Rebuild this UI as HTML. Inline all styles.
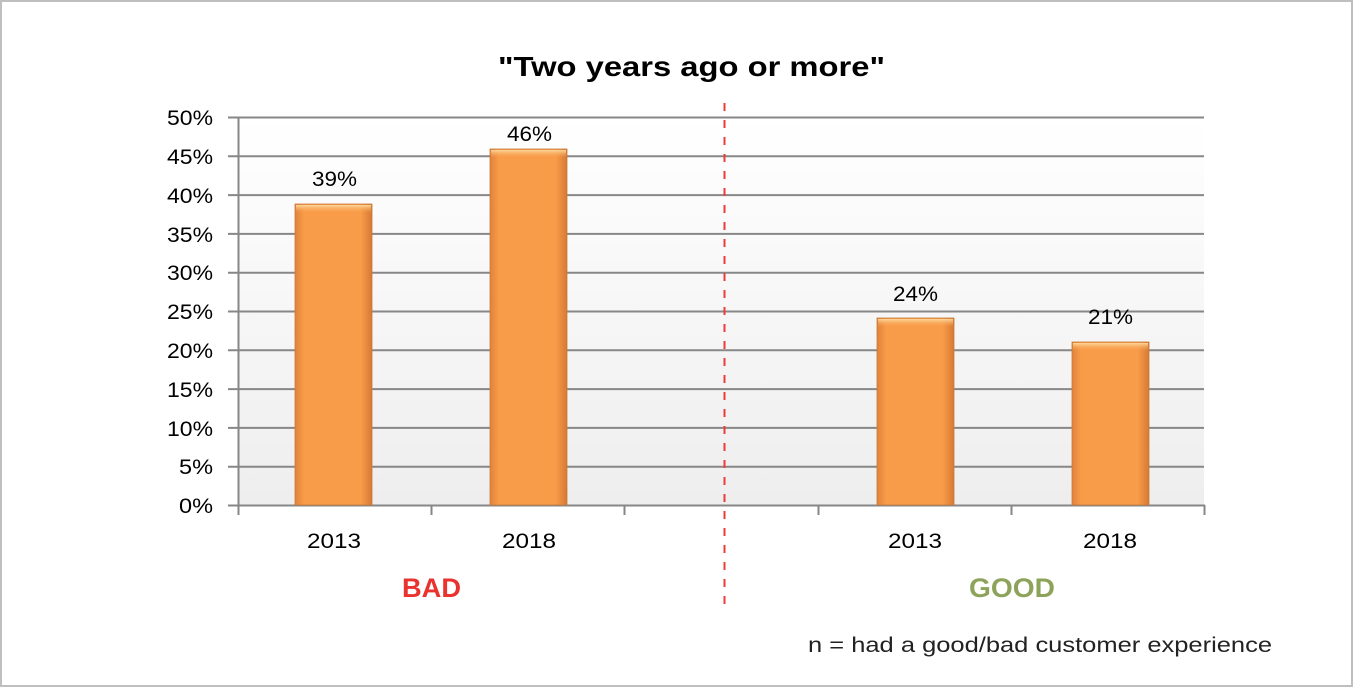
<!DOCTYPE html>
<html><head><meta charset="utf-8"><style>
html,body{margin:0;padding:0;background:#fff;}
svg{display:block;}
text{font-family:"Liberation Sans",sans-serif;}
</style></head><body>
<svg width="1354" height="688" viewBox="0 0 1354 688" xmlns="http://www.w3.org/2000/svg">
<defs>
<linearGradient id="bg" x1="0" y1="0" x2="0" y2="1">
<stop offset="0" stop-color="#ffffff"/><stop offset="1" stop-color="#eeeeee"/>
</linearGradient>
<linearGradient id="bar" x1="0" y1="0" x2="1" y2="0">
<stop offset="0" stop-color="#e0823a"/><stop offset="0.12" stop-color="#f99c4a"/>
<stop offset="0.85" stop-color="#f99c4a"/><stop offset="1" stop-color="#d67a34"/>
</linearGradient>
<linearGradient id="cap" x1="0" y1="0" x2="0" y2="1">
<stop offset="0" stop-color="#fbd79a"/><stop offset="1" stop-color="#f99c4a" stop-opacity="0"/>
</linearGradient>
</defs>
<rect x="1" y="1" width="1351" height="685" fill="#fff" stroke="#bfbfbf" stroke-width="2"/>
<text x="498" y="76" font-size="28" font-weight="bold" fill="#000" textLength="387" lengthAdjust="spacingAndGlyphs">"Two years ago or more"</text>
<rect x="238" y="117" width="966" height="388" fill="url(#bg)"/>
<g stroke="#878787" stroke-width="2">
<line x1="228" y1="117.5" x2="1204" y2="117.5"/>
<line x1="228" y1="156.3" x2="1204" y2="156.3"/>
<line x1="228" y1="195.1" x2="1204" y2="195.1"/>
<line x1="228" y1="233.9" x2="1204" y2="233.9"/>
<line x1="228" y1="272.7" x2="1204" y2="272.7"/>
<line x1="228" y1="311.5" x2="1204" y2="311.5"/>
<line x1="228" y1="350.3" x2="1204" y2="350.3"/>
<line x1="228" y1="389.1" x2="1204" y2="389.1"/>
<line x1="228" y1="427.9" x2="1204" y2="427.9"/>
<line x1="228" y1="466.7" x2="1204" y2="466.7"/>
<line x1="228" y1="505.5" x2="1205" y2="505.5"/>
<line x1="238.5" y1="117" x2="238.5" y2="515"/>
<line x1="431.5" y1="505" x2="431.5" y2="515"/>
<line x1="624.5" y1="505" x2="624.5" y2="515"/>
<line x1="818.5" y1="505" x2="818.5" y2="515"/>
<line x1="1011.5" y1="505" x2="1011.5" y2="515"/>
<line x1="1204.5" y1="505" x2="1204.5" y2="515"/>
</g>
<g font-size="21" fill="#000" text-anchor="end">
<text x="213" y="125" textLength="46" lengthAdjust="spacingAndGlyphs">50%</text>
<text x="213" y="164" textLength="46" lengthAdjust="spacingAndGlyphs">45%</text>
<text x="213" y="203" textLength="46" lengthAdjust="spacingAndGlyphs">40%</text>
<text x="213" y="242" textLength="46" lengthAdjust="spacingAndGlyphs">35%</text>
<text x="213" y="280" textLength="46" lengthAdjust="spacingAndGlyphs">30%</text>
<text x="213" y="319" textLength="46" lengthAdjust="spacingAndGlyphs">25%</text>
<text x="213" y="358" textLength="46" lengthAdjust="spacingAndGlyphs">20%</text>
<text x="213" y="397" textLength="46" lengthAdjust="spacingAndGlyphs">15%</text>
<text x="213" y="436" textLength="46" lengthAdjust="spacingAndGlyphs">10%</text>
<text x="213" y="474" textLength="34" lengthAdjust="spacingAndGlyphs">5%</text>
<text x="213" y="513" textLength="34" lengthAdjust="spacingAndGlyphs">0%</text>
</g>
<g>
<rect x="295" y="204" width="77" height="301" fill="url(#bar)" stroke="#c77a3c" stroke-width="0.8"/>
<rect x="296" y="205" width="75" height="8" fill="url(#cap)"/>
<rect x="490" y="149" width="77" height="356" fill="url(#bar)" stroke="#c77a3c" stroke-width="0.8"/>
<rect x="491" y="150" width="75" height="8" fill="url(#cap)"/>
<rect x="877" y="318" width="77" height="187" fill="url(#bar)" stroke="#c77a3c" stroke-width="0.8"/>
<rect x="878" y="319" width="75" height="8" fill="url(#cap)"/>
<rect x="1072" y="342" width="77" height="163" fill="url(#bar)" stroke="#c77a3c" stroke-width="0.8"/>
<rect x="1073" y="343" width="75" height="8" fill="url(#cap)"/>
</g>
<g font-size="21" fill="#000">
<text x="312" y="186" textLength="45" lengthAdjust="spacingAndGlyphs">39%</text>
<text x="507" y="141" textLength="45" lengthAdjust="spacingAndGlyphs">46%</text>
<text x="893" y="301" textLength="45" lengthAdjust="spacingAndGlyphs">24%</text>
<text x="1088" y="324" textLength="45" lengthAdjust="spacingAndGlyphs">21%</text>
<text x="307" y="548" textLength="54" lengthAdjust="spacingAndGlyphs">2013</text>
<text x="502" y="548" textLength="54" lengthAdjust="spacingAndGlyphs">2018</text>
<text x="888" y="548" textLength="54" lengthAdjust="spacingAndGlyphs">2013</text>
<text x="1083" y="548" textLength="54" lengthAdjust="spacingAndGlyphs">2018</text>
</g>
<line x1="724.5" y1="103" x2="724.5" y2="605" stroke="#f03a3a" stroke-width="2" stroke-dasharray="8,9"/>
<text x="402" y="597" font-size="27" font-weight="bold" fill="#e8332f" textLength="59" lengthAdjust="spacingAndGlyphs">BAD</text>
<text x="969" y="597" font-size="27" font-weight="bold" fill="#8ea35a" textLength="86" lengthAdjust="spacingAndGlyphs">GOOD</text>
<text x="808" y="652" font-size="21" fill="#222" textLength="464" lengthAdjust="spacingAndGlyphs">n = had a good/bad customer experience</text>
</svg>
</body></html>
